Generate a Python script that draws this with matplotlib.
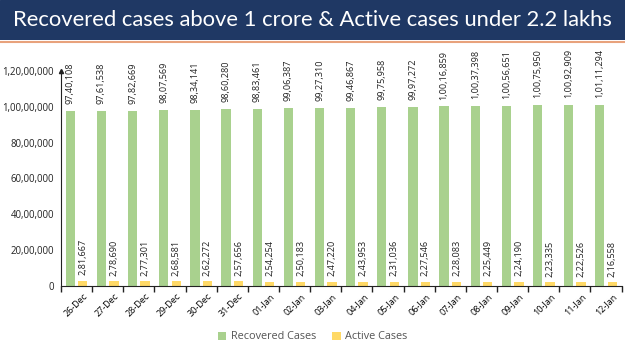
import numpy as np
import matplotlib.pyplot as plt
from matplotlib.patches import Rectangle

dates = ["26-Dec", "27-Dec", "28-Dec", "29-Dec", "30-Dec", "31-Dec",
         "01-Jan", "02-Jan", "03-Jan", "04-Jan", "05-Jan", "06-Jan",
         "07-Jan", "08-Jan", "09-Jan", "10-Jan", "11-Jan", "12-Jan"]
recovered = [9740108, 9761538, 9782669, 9807569, 9834141, 9860280,
             9883461, 9906387, 9927310, 9946867, 9975958, 9997272,
             10016859, 10037398, 10056651, 10075950, 10092909, 10111294]
active = [281667, 278690, 277301, 268581, 262272, 257656,
          254254, 250183, 247220, 243953, 231036, 227546,
          228083, 225449, 224190, 223335, 222526, 216558]
yticks = [0, 2000000, 4000000, 6000000, 8000000, 10000000, 12000000]

title = "Recovered cases above 1 crore & Active cases under 2.2 lakhs"
green = "#A9D18E"
yellow = "#FFD966"
navy = "#1F3864"


def indian(n):
    # format with Indian digit grouping: 1,00,00,000
    s = str(int(n))
    if len(s) <= 3:
        return s
    head, tail = s[:-3], s[-3:]
    parts = []
    while len(head) > 2:
        parts.insert(0, head[-2:])
        head = head[:-2]
    if head:
        parts.insert(0, head)
    return ",".join(parts) + "," + tail


plt.rcParams['font.family'] = ['Open Sans', 'DejaVu Sans']
fig = plt.figure(figsize=(6.25, 3.51), dpi=100)

# title banner
ban = fig.add_axes([0, 0.886, 1, 0.114])
ban.set_xlim(0, 1)
ban.set_ylim(0, 1)
ban.axis("off")
ban.add_patch(Rectangle((0, 0), 1, 1, color=navy))
ban.text(0.5, 0.5, title, color="white", fontsize=15.8, ha="center", va="center",
         family=["Lato", "DejaVu Sans"])
fig.add_artist(plt.Line2D([0, 1], [0.881, 0.881], color="#E8A27C", lw=1.5))

ax = fig.add_axes([0.0976, 0.185, 0.897, 0.613])
x = np.arange(len(dates))
w = 0.3
ax.bar(x - 0.2, recovered, w, color=green, label="Recovered Cases")
ax.bar(x + 0.2, active, w, color=yellow, label="Active Cases")

for xi, r, a in zip(x, recovered, active):
    ax.annotate(indian(r), (xi - 0.2, r), xytext=(0, 5), textcoords="offset points",
                rotation=90, ha="center", va="bottom", fontsize=6.6, color="#222222")
    ax.annotate(indian(a), (xi + 0.2, a), xytext=(0, 4), textcoords="offset points",
                rotation=90, ha="center", va="bottom", fontsize=6.6, color="#222222")

ax.set_xlim(-0.5, len(dates) - 0.5)
ax.set_ylim(0, 12000000)
ax.set_yticks(yticks)
ax.set_yticklabels([indian(v) for v in yticks], fontsize=6.9, color="#222222")
ax.tick_params(axis="y", length=0, pad=5)
ax.set_xticks(x + 0.2)
ax.set_xticklabels(dates, rotation=45, ha="right", rotation_mode="anchor", fontsize=6.5)
ax.tick_params(axis="x", length=0, pad=4)
ax.set_xticks(np.arange(len(dates) + 1) - 0.5, minor=True)
ax.tick_params(axis="x", which="minor", length=4, width=1, direction="out", color="#222222")

for s in ["top", "right"]:
    ax.spines[s].set_visible(False)
ax.spines["left"].set_color("#222222")
ax.spines["bottom"].set_color("#222222")
ax.plot(0, 1, marker="^", transform=ax.transAxes, color="#222222",
        markersize=3, clip_on=False)

fig.legend(loc="center", bbox_to_anchor=(0.5, 0.04), ncol=2, frameon=False,
           fontsize=7.8, handlelength=0.8, handleheight=0.8, columnspacing=1.5,
           handletextpad=0.4, labelcolor="#555555")

plt.savefig("out.png", dpi=100)
